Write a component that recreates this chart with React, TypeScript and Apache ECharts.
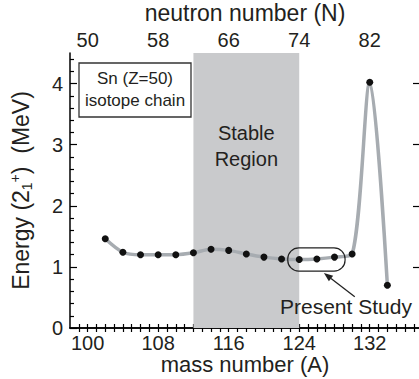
import React, { useEffect, useRef } from 'react';
import * as echarts from 'echarts';

// Sn (Z=50) isotope chain: first 2+ excitation energies
const massNumbers = [102, 104, 106, 108, 110, 112, 114, 116, 118, 120, 122, 124, 126, 128, 130, 132, 134];
const energies = [1.46, 1.24, 1.2, 1.2, 1.2, 1.23, 1.29, 1.27, 1.21, 1.16, 1.13, 1.12, 1.13, 1.16, 1.21, 4.02, 0.7];
const bottomTickLabels = [100, 108, 116, 124, 132];
const topTickLabels = [50, 58, 66, 74, 82]; // neutron number N at the same positions
const yTickLabels = [0, 1, 2, 3, 4];
const stableRegion = [112, 124];

export default function App() {
  const ref = useRef<HTMLDivElement>(null);
  useEffect(() => {
    document.body.style.margin = '0';
    const chart = echarts.init(ref.current!, null, { renderer: 'svg' });
    const font = '"Liberation Sans", Arial, Helvetica, sans-serif';
    const textColor = '#231f20';
    const xMin = 98;
    const xMax = 137.7;
    const minorX: number[] = [];
    for (let a = 99; a <= 137; a++) minorX.push(a);
    const minorY: number[] = [];
    for (let i = 1; i <= 22; i++) if (i % 5) minorY.push(Math.round(i * 2) / 10);
    const axisLine = { show: true, lineStyle: { color: '#000', width: 1.5 } };

    chart.setOption({
      animation: false,
      grid: { left: 70, right: -1, top: 53, bottom: 51, containLabel: false, outerBoundsMode: 'none' },
      xAxis: [
        {
          type: 'value', position: 'bottom', min: xMin, max: xMax,
          axisLine, splitLine: { show: false },
          axisTick: { show: true, inside: true, length: 4, customValues: minorX, lineStyle: { color: '#000', width: 1.2 } },
          axisLabel: { customValues: bottomTickLabels, fontSize: 20, lineHeight: 15, color: textColor, fontFamily: font, margin: 7, hideOverlap: false },
          name: 'mass number (A)', nameLocation: 'middle', nameGap: 28, nameMoveOverlap: false,
          nameTextStyle: { fontSize: 22, lineHeight: 16, color: textColor, fontFamily: font },
        },
        {
          type: 'value', position: 'top', min: xMin, max: xMax,
          axisLine, splitLine: { show: false },
          axisTick: { show: true, inside: true, length: 4, customValues: minorX, lineStyle: { color: '#000', width: 1.2 } },
          axisLabel: {
            customValues: bottomTickLabels, fontSize: 20, lineHeight: 15, color: textColor, fontFamily: font, margin: 6, hideOverlap: false,
            formatter: (v: number) => String(topTickLabels[bottomTickLabels.indexOf(v)]),
          },
          name: 'neutron number (N)', nameLocation: 'middle', nameGap: 32, nameMoveOverlap: false,
          nameTextStyle: { fontSize: 23, lineHeight: 16, color: textColor, fontFamily: font },
        },
      ],
      yAxis: [
        {
          type: 'value', position: 'left', min: 0, max: 4.5,
          axisLine, splitLine: { show: false },
          axisTick: { show: true, inside: true, length: 7, customValues: yTickLabels, lineStyle: { color: '#000', width: 1.2 } },
          axisLabel: { customValues: yTickLabels, fontSize: 20, color: textColor, fontFamily: font, margin: 7, hideOverlap: false },
          name: 'Energy (2{sub|1}{sup|+})  (MeV)', nameLocation: 'middle', nameGap: 36, nameRotate: 90, nameMoveOverlap: false,
          nameTextStyle: {
            fontSize: 23, color: textColor, fontFamily: font,
            rich: {
              sub: { fontSize: 14, color: textColor, fontFamily: font, verticalAlign: 'bottom', padding: [12, 0, 0, 0] },
              sup: { fontSize: 14, color: textColor, fontFamily: font, verticalAlign: 'top', padding: [0, 0, 12, 0] },
            },
          },
        },
        {
          type: 'value', position: 'left', min: 0, max: 4.5, offset: 0,
          axisLine: { show: false }, splitLine: { show: false }, axisLabel: { show: false },
          axisTick: { show: true, inside: true, length: 4, customValues: minorY, lineStyle: { color: '#000', width: 1.2 } },
        },
        {
          type: 'value', position: 'right', min: 0, max: 4.5,
          axisLine: { show: false }, splitLine: { show: false }, axisLabel: { show: false },
          axisTick: { show: true, inside: true, length: 7, customValues: yTickLabels.filter(v => v > 0), lineStyle: { color: '#000', width: 1.2 } },
        },
      ],
      series: [
        {
          type: 'line', xAxisIndex: 0, yAxisIndex: 0,
          data: massNumbers.map((a, i) => [a, energies[i]]),
          smooth: 0.3,
          symbol: 'circle', symbolSize: 7,
          lineStyle: { color: '#a7acb1', width: 3.5 },
          itemStyle: { color: '#111' },
          z: 3,
          markArea: {
            silent: true,
            itemStyle: { color: '#c9cacc' },
            data: [[{ xAxis: stableRegion[0] }, { xAxis: stableRegion[1] }]],
          },
        },
      ],
    });

    const px = (a: number, e: number) => chart.convertToPixel({ gridIndex: 0 }, [a, e]) as number[];
    const boxTL = px(122.7, 1.31);
    const boxBR = px(129.2, 0.93);
    const head = px(126.8, 0.9);
    const tail = px(130.3, 0.51);
    const dx = head[0] - tail[0];
    const dy = head[1] - tail[1];
    const len = Math.sqrt(dx * dx + dy * dy);
    const ux = dx / len, uy = dy / len;
    const hl = 9, hw = 3.5;
    const bx = head[0] - ux * hl, by = head[1] - uy * hl;
    const stableCenter = px((stableRegion[0] + stableRegion[1]) / 2, 0)[0];
    const labelPos = px(129.3, 0.36);

    chart.setOption({
      graphic: [
        { type: 'rect', shape: { x: 79, y: 63, width: 112, height: 54 }, style: { fill: '#fff', stroke: '#333', lineWidth: 1.3 }, z: 10 },
        { type: 'text', x: 135, y: 78, style: { text: 'Sn (Z=50)', fontSize: 17, fontFamily: font, fill: textColor, align: 'center', verticalAlign: 'middle' }, z: 11 },
        { type: 'text', x: 135, y: 100, style: { text: 'isotope chain', fontSize: 17, fontFamily: font, fill: textColor, align: 'center', verticalAlign: 'middle' }, z: 11 },
        { type: 'text', x: stableCenter, y: 133, style: { text: 'Stable', fontSize: 20, fontFamily: font, fill: textColor, align: 'center', verticalAlign: 'middle' }, z: 11 },
        { type: 'text', x: stableCenter, y: 159, style: { text: 'Region', fontSize: 20, fontFamily: font, fill: textColor, align: 'center', verticalAlign: 'middle' }, z: 11 },
        {
          type: 'rect',
          shape: { x: boxTL[0], y: boxTL[1], width: boxBR[0] - boxTL[0], height: boxBR[1] - boxTL[1], r: 11 },
          style: { fill: 'none', stroke: '#222', lineWidth: 1.2 }, z: 12,
        },
        { type: 'line', shape: { x1: tail[0], y1: tail[1], x2: bx, y2: by }, style: { stroke: '#222', lineWidth: 1.3 }, z: 12 },
        {
          type: 'polygon',
          shape: { points: [[head[0], head[1]], [bx - uy * hw, by + ux * hw], [bx + uy * hw, by - ux * hw]] },
          style: { fill: '#222' }, z: 12,
        },
        { type: 'text', x: labelPos[0], y: labelPos[1], style: { text: 'Present Study', fontSize: 21, fontFamily: font, fill: textColor, align: 'center', verticalAlign: 'middle' }, z: 11 },
      ],
    });

    return () => chart.dispose();
  }, []);
  return <div ref={ref} style={{ width: 419, height: 379 }} />;
}
